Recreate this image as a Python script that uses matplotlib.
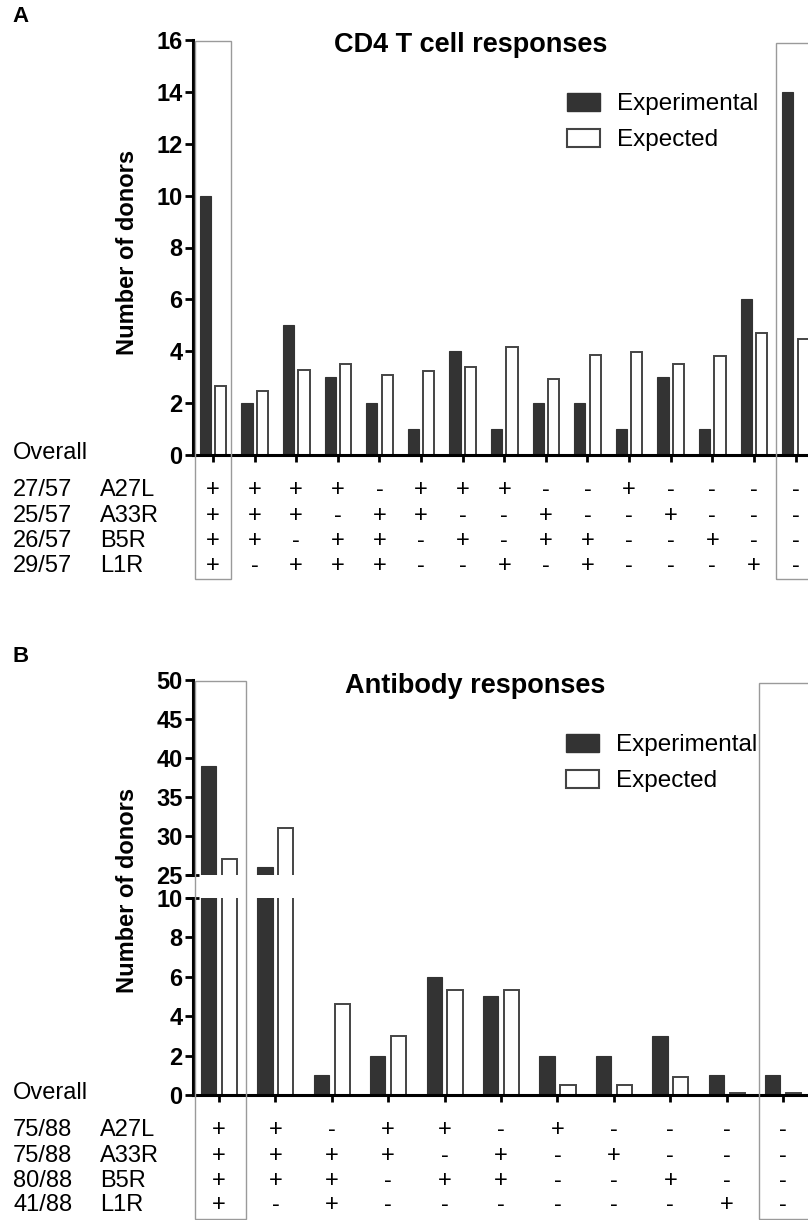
import matplotlib
matplotlib.use('Agg')
import matplotlib.pyplot as plt
from matplotlib.patches import Rectangle, Patch
from matplotlib.transforms import blended_transform_factory
import numpy as np

plt.rcParams['font.family'] = ['Liberation Sans', 'DejaVu Sans']

# ---------------- data ----------------
genes = ['A27L', 'A33R', 'B5R', 'L1R']

a_overall = ['27/57', '25/57', '26/57', '29/57']
a_experimental = [10, 2, 5, 3, 2, 1, 4, 1, 2, 2, 1, 3, 1, 6, 14]
a_expected = [2.65, 2.48, 3.28, 3.51, 3.09, 3.22, 3.39, 4.18, 2.92, 3.86,
              3.99, 3.51, 3.80, 4.72, 4.47]
a_signs = ['++++-+++--+----',   # A27L
           '+++-++--+--+---',   # A33R
           '++-++-+-++--+--',   # B5R
           '+-+++--+-+---+-']   # L1R
a_yticks = [0, 2, 4, 6, 8, 10, 12, 14, 16]

b_overall = ['75/88', '75/88', '80/88', '41/88']
b_experimental = [39, 26, 1, 2, 6, 5, 2, 2, 3, 1, 1]
b_expected = [27, 31, 4.6, 3.0, 5.33, 5.33, 0.51, 0.51, 0.9, 0.12, 0.12]
b_signs = ['++-++-+----',   # A27L
           '++++-+-+---',   # A33R
           '+++-++--+--',   # B5R
           '+-+------+-']   # L1R
b_yticks_top = [25, 30, 35, 40, 45, 50]
b_yticks_bot = [0, 2, 4, 6, 8, 10]

legend_labels = ['Experimental', 'Expected']

# ---------------- style ----------------
DARK = '#333333'
EDGE = '#444444'
BOXC = '#9a9a9a'
W, H = 808, 1220


def fx(px):
    return px / W


def fy(py):
    return 1 - py / H


fig = plt.figure(figsize=(W / 100, H / 100), dpi=100)

BW = 0.27
OFF = 0.185


def style_axis(ax, yticks, bottom=True):
    for s in ['top', 'right']:
        ax.spines[s].set_visible(False)
    ax.spines['left'].set_linewidth(2.2)
    ax.spines['bottom'].set_linewidth(2.2)
    if not bottom:
        ax.spines['bottom'].set_visible(False)
    ax.set_yticks(yticks)
    ax.tick_params(axis='y', length=6, width=2.0, direction='out', pad=1.5,
                   labelsize=17)
    for lab in ax.get_yticklabels():
        lab.set_fontweight('bold')


def sign_table(ax, signs, overall, row_px, overall_px):
    trans = blended_transform_factory(ax.transData, fig.transFigure)
    for r, row in enumerate(signs):
        yy = fy(row_px[r])
        for i, ch in enumerate(row):
            ax.text(i, yy, ch, transform=trans, ha='center', va='center',
                    fontsize=17, clip_on=False)
        fig.text(fx(13), yy, overall[r], ha='left', va='center', fontsize=17)
        fig.text(fx(100), yy, genes[r], ha='left', va='center', fontsize=17)
    fig.text(fx(13), fy(overall_px), 'Overall', ha='left', va='center',
             fontsize=17)


def add_box(ax, x0, x1, y0f, y1f):
    trans = blended_transform_factory(ax.transData, fig.transFigure)
    rect = Rectangle((x0, y0f), x1 - x0, y1f - y0f, transform=trans,
                     fill=False, edgecolor=BOXC, linewidth=1.0, clip_on=False,
                     zorder=5)
    fig.add_artist(rect)


def legend(anchor_px):
    handles = [Patch(facecolor=DARK, edgecolor=DARK, linewidth=1.0),
               Patch(facecolor='white', edgecolor=EDGE, linewidth=1.5)]
    fig.legend(handles, legend_labels, loc='upper left',
               bbox_to_anchor=(fx(anchor_px[0]), fy(anchor_px[1])),
               frameon=False, fontsize=17.5, handlelength=1.35,
               handleheight=0.75, handletextpad=0.7, labelspacing=0.55,
               borderpad=0, borderaxespad=0)


# ---------------- Panel A ----------------
axA = fig.add_axes([fx(193), fy(455), 1 - fx(193), fy(40) - fy(455)])
xa = np.arange(len(a_experimental))
axA.bar(xa - OFF, a_experimental, width=BW, color=DARK, edgecolor=DARK,
        linewidth=0.8)
axA.bar(xa + OFF, a_expected, width=BW, facecolor='white', edgecolor=EDGE,
        linewidth=1.4)
axA.set_xlim(-0.481, 14.30)
axA.set_ylim(0, 16)
style_axis(axA, a_yticks)
axA.set_xticks(xa)
axA.set_xticklabels([])
axA.tick_params(axis='x', length=5, width=2.0, direction='out')

fig.text(fx(471), fy(45), 'CD4 T cell responses', ha='center', va='center',
         fontsize=19.5, fontweight='bold')
fig.text(fx(128), fy(252), 'Number of donors', rotation=90, ha='center',
         va='center', fontsize=17, fontweight='bold')
fig.text(fx(12), fy(17), 'A', ha='left', va='center', fontsize=16,
         fontweight='bold')
legend((567, 93))

sign_table(axA, a_signs, a_overall, [490, 516, 541, 566], 453)
add_box(axA, 0 - 0.43, 0 + 0.43, fy(579), fy(41))
add_box(axA, 14 - 0.47, 16, fy(579), fy(43))

# ---------------- Panel B ----------------
xb = np.arange(len(b_experimental))
axBt = fig.add_axes([fx(193), fy(875), 1 - fx(193), fy(680) - fy(875)])
axBb = fig.add_axes([fx(193), fy(1095), 1 - fx(193), fy(898) - fy(1095)])
for ax in (axBt, axBb):
    ax.bar(xb - OFF, b_experimental, width=BW, color=DARK, edgecolor=DARK,
           linewidth=0.8)
    ax.bar(xb + OFF, b_expected, width=BW, facecolor='white', edgecolor=EDGE,
           linewidth=1.4)
    ax.set_xlim(-0.46, 10.44)
axBt.set_ylim(25, 50)
axBb.set_ylim(0, 10)
style_axis(axBt, b_yticks_top, bottom=False)
style_axis(axBb, b_yticks_bot)
axBt.set_xticks([])
axBb.set_xticks(xb)
axBb.set_xticklabels([])
axBb.tick_params(axis='x', length=5, width=2.0, direction='out')

# break marks
axBt.plot([-0.012, 0.01], [0, 0], transform=axBt.transAxes, color='k',
          lw=2.0, clip_on=False, solid_capstyle='butt')
axBb.plot([-0.012, 0.01], [1, 1], transform=axBb.transAxes, color='k',
          lw=2.0, clip_on=False, solid_capstyle='butt')

fig.text(fx(475), fy(686), 'Antibody responses', ha='center', va='center',
         fontsize=19.5, fontweight='bold')
fig.text(fx(128), fy(890), 'Number of donors', rotation=90, ha='center',
         va='center', fontsize=17, fontweight='bold')
fig.text(fx(12), fy(657), 'B', ha='left', va='center', fontsize=16,
         fontweight='bold')
legend((566, 734))

sign_table(axBb, b_signs, b_overall, [1130, 1156, 1181, 1205], 1093)
add_box(axBb, 0 - 0.43, 0 + 0.48, fy(1219), fy(681))
add_box(axBb, 10 - 0.43, 12, fy(1219), fy(683))

fig.savefig('out.png', dpi=100)
